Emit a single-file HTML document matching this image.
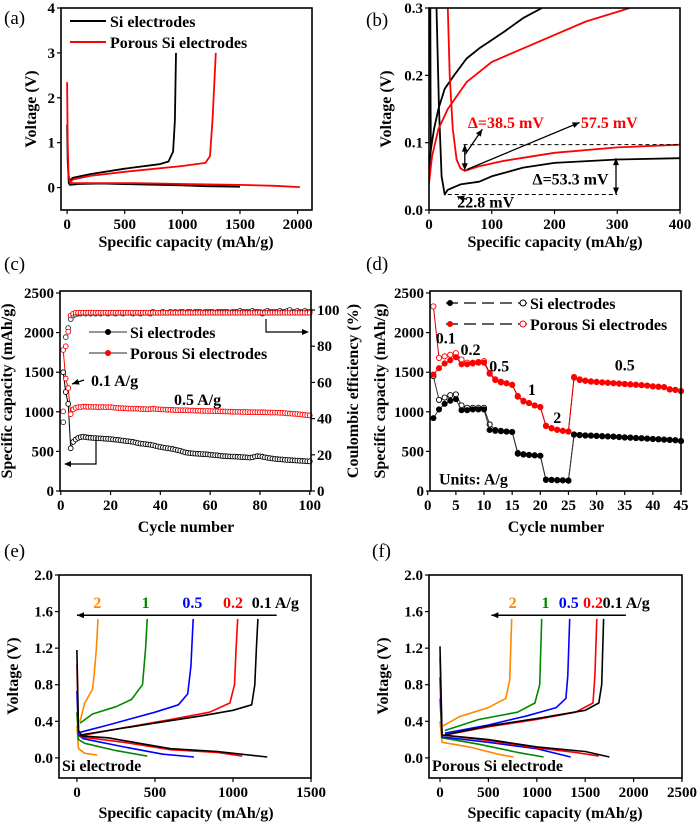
<!DOCTYPE html>
<html><head><meta charset="utf-8"><style>
html,body{margin:0;padding:0;background:#fff}
svg{display:block;font-family:"Liberation Serif",serif;font-weight:bold}
</style></head><body>
<svg id="fig" width="700" height="824" viewBox="0 0 700 824" xmlns="http://www.w3.org/2000/svg"></svg>
<script>
// ---------- Panel (a) data ----------
const aSiDisX=[0,5,15,25,100,300,600,1000,1200,1500];
const aSiDisY=[1.4,0.6,0.1,0.06,0.08,0.09,0.07,0.05,0.03,0.02];
const aSiChX=[20,50,200,500,800,880,920,935,945];
const aSiChY=[0.15,0.22,0.3,0.42,0.52,0.58,0.8,1.5,3.0];
const aPoDisX=[0,5,12,25,200,600,1000,1500,1800,2020];
const aPoDisY=[2.35,1.0,0.3,0.1,0.1,0.1,0.08,0.06,0.04,0.01];
const aPoChX=[20,50,200,500,1000,1200,1240,1262,1290];
const aPoChY=[0.1,0.18,0.26,0.35,0.48,0.55,0.7,1.5,3.0];
// ---------- Panel (b) data ----------
const bSiDisX=[12,16,20,25,30,50,80,100,150,200,300,400];
const bSiDisY=[0.3,0.15,0.05,0.023,0.03,0.038,0.042,0.05,0.063,0.07,0.075,0.077];
const bSiChX=[0,3,8,15,25,40,60,80,120,150,180];
const bSiChY=[0.06,0.09,0.12,0.15,0.18,0.2,0.225,0.24,0.265,0.285,0.3];
const bSiVertX=[2,2.5,3];
const bSiVertY=[0.3,0.15,0.09];
const bPoDisX=[30,33,38,44,50,57,80,120,200,300,400];
const bPoDisY=[0.3,0.2,0.12,0.075,0.062,0.058,0.065,0.073,0.085,0.093,0.097];
const bPoChX=[0,5,15,30,60,100,150,200,250,320];
const bPoChY=[0.04,0.08,0.12,0.15,0.19,0.22,0.24,0.26,0.28,0.3];
// ---------- Panel (c) data ----------
const cSiCap=[1500,1250,1100,540,620,650,670,680,685,680,675,672,670,668,665,665,662,660,658,655,652,648,645,640,636,632,628,624,620,612,605,600,596,592,588,584,578,570,562,556,550,545,540,535,530,522,515,508,498,488,482,478,475,472,470,468,466,464,462,458,455,452,450,446,442,440,438,436,435,434,432,430,428,426,424,422,425,435,440,438,432,425,420,415,410,405,402,400,398,395,392,390,388,386,384,382,380,378,376,374];
const cPoCap=[1780,1420,1300,970,1030,1050,1060,1060,1065,1065,1062,1063,1060,1062,1058,1060,1061,1058,1060,1060,1055,1050,1048,1046,1045,1044,1042,1040,1040,1040,1038,1036,1035,1034,1032,1035,1038,1036,1032,1030,1030,1028,1026,1025,1024,1022,1021,1020,1020,1020,1018,1017,1016,1015,1014,1013,1012,1011,1010,1010,1009,1008,1007,1006,1005,1004,1003,1002,1001,1000,1000,999,998,997,996,996,995,995,995,995,994,993,992,991,990,990,989,988,986,984,980,978,976,974,972,968,964,960,957,955];
const cSiCE=[38,85,90,95,97,97.5,98,98,98.5,98,98.5,98,98.5,98,98.5,98,98.5,98.5,98,98.5,98.5,98,98.5,98.5,98,98.5,98.5,98.5,98,98.5,98.5,98,98.5,98.5,98.5,98,99,98.5,98.5,98.5,99,98.5,98.5,99,98.5,99,98.5,99,99,98.5,99,99,98.5,99,99,99,98.5,99,99,99,99,98.5,99,99,99,99,99,98.5,99,99,99,99.5,99,99,99,99,99.5,99,99,99,98,99,99.5,99,99,99,99,99.5,99,99,99.5,100,99,99,99.5,99,99,99.5,99,99];
const cPoCE=[44,80,88,97,98,98.5,98.5,98.5,98.5,98.5,98.5,98.5,98.5,98.5,98.5,98.5,98.5,98.5,98.5,98.5,98.5,98.5,98.5,98.5,98.5,98.5,98.5,98.5,98.5,98.5,98.5,98.5,98.5,98.5,98.5,98.5,98.5,98.5,98.5,98.5,98.5,98.5,98.5,98.5,98.5,98.5,98.5,98.5,98.5,98.5,98.5,98.5,98.5,98.5,98.5,98.5,98.5,98.5,98.5,98.5,98.5,98.5,98.5,98.5,98.5,98.5,98.5,98.5,98.5,98.5,98.5,98.5,98.5,98.5,98.5,98.5,98.5,98.5,98.5,98.5,98.5,98.5,98.5,98.5,98.5,98.5,98.5,98.5,98.5,98.5,98.5,98.5,98.5,98.5,98.5,98.5,98.5,98.5,98.5,98.5];
// ---------- Panel (d) data ----------
const dSiA=[920,1030,1100,1140,1160,1020,1020,1030,1030,1030,770,760,755,750,745,470,460,455,450,445,140,140,135,135,130,710,705,700,698,695,690,688,685,680,675,672,668,665,660,656,652,648,644,640,630];
const dSiB=[1450,1150,1180,1210,1220,1080,1050,1050,1050,1050,840,770,760,750,745,480,465,455,450,445,145,140,138,135,132,715,708,702,700,697,693,690,687,683,678,675,670,667,662,658,654,650,646,642,632];
const dPoA=[1470,1550,1610,1650,1690,1600,1600,1610,1620,1620,1480,1400,1370,1360,1340,1190,1130,1110,1080,1060,820,790,770,760,750,1430,1400,1390,1380,1375,1370,1365,1360,1355,1350,1345,1340,1335,1330,1320,1315,1310,1280,1275,1260];
const dPoB=[2330,1680,1700,1720,1740,1660,1620,1620,1630,1640,1490,1410,1380,1360,1340,1200,1140,1110,1080,1060,825,795,775,760,750,1440,1410,1395,1385,1378,1372,1367,1362,1357,1352,1347,1342,1337,1332,1322,1317,1312,1285,1278,1262];
// ---------- Panel (e) data ----------
const eRates=["0.1","0.2","0.5","1","2"];
const eColors=["#000","#f00","#00f","#080","#f80"];
const eChX=[[20,200,500,800,1000,1120,1140,1150,1160],[20,300,600,850,980,1010,1020,1030],[20,200,500,650,710,730,745],[20,100,250,350,420,440,450],[20,50,100,110,125,135]];
const eChY=[[0.25,0.3,0.38,0.46,0.52,0.58,0.8,1.2,1.52],[0.24,0.33,0.42,0.5,0.6,0.8,1.2,1.52],[0.28,0.36,0.5,0.58,0.7,1.0,1.52],[0.38,0.48,0.56,0.64,0.8,1.2,1.52],[0.4,0.6,0.75,0.9,1.2,1.52]];
const eDisX=[[0,10,30,200,400,600,900,1220],[0,10,30,300,600,900,1060],[0,10,40,300,550,750],[0,10,50,250,450],[0,10,50,130]];
const eDisY=[[1.18,0.3,0.24,0.22,0.16,0.1,0.07,0.01],[1.02,0.3,0.23,0.17,0.09,0.06,0.02],[0.73,0.25,0.21,0.12,0.04,0.01],[0.5,0.2,0.16,0.08,0.02],[0.35,0.1,0.05,0.03]];
const eLabelX=[1120,1000,740,440,130];
// ---------- Panel (f) data ----------
const fChX=[[50,500,1000,1500,1640,1670,1690],[50,500,1000,1400,1580,1600,1620],[50,500,900,1200,1300,1320,1340],[50,400,800,980,1030,1050],[30,200,500,680,720,740]];
const fChY=[[0.25,0.35,0.43,0.52,0.6,0.8,1.52],[0.25,0.34,0.42,0.5,0.6,0.9,1.52],[0.27,0.36,0.46,0.55,0.65,0.9,1.52],[0.3,0.42,0.5,0.6,0.8,1.52],[0.35,0.45,0.55,0.65,0.85,1.52]];
const fDisX=[[0,20,500,1000,1500,1750],[0,20,500,1000,1400,1640],[0,20,500,1000,1350],[0,20,400,800,1070],[0,20,300,600,760]];
const fDisY=[[1.22,0.25,0.2,0.12,0.07,0.01],[1.1,0.25,0.19,0.11,0.06,0.02],[0.88,0.23,0.17,0.1,0.01],[0.65,0.22,0.15,0.06,0.01],[0.4,0.17,0.12,0.04,0.01]];
const fLabelX=[1680,1580,1330,1090,750];

const NS="http://www.w3.org/2000/svg";
const svg=document.getElementById('fig');
function mk(tag,attrs,parent){const e=document.createElementNS(NS,tag);for(const k in attrs)e.setAttribute(k,attrs[k]);(parent||svg).appendChild(e);return e;}
function txt(x,y,s,size,opt,parent){opt=opt||{};const t=mk('text',{x:x,y:y,'font-size':size,fill:opt.fill||'#000','text-anchor':opt.anchor||'middle'},parent);if(opt.rot)t.setAttribute('transform','rotate(-90 '+x+' '+y+')');t.textContent=s;return t;}
function scale(d0,d1,p0,p1){return v=>p0+(v-d0)/(d1-d0)*(p1-p0);}
function frame(g,x0,y0,x1,y1){mk('rect',{x:x0,y:y0,width:x1-x0,height:y1-y0,fill:'none',stroke:'#000','stroke-width':1.6},g);}
function xticks(g,sx,vals,y1,labels){vals.forEach((v,i)=>{mk('line',{x1:sx(v),x2:sx(v),y1:y1,y2:y1+4,stroke:'#000','stroke-width':1.2},g);const t=txt(sx(v),y1+19,labels?labels[i]:String(v),15,{},g);});}
function yticks(g,sy,vals,x0,labels){vals.forEach((v,i)=>{mk('line',{x1:x0-4,x2:x0,y1:sy(v),y2:sy(v),stroke:'#000','stroke-width':1.2},g);const t=txt(x0-6,sy(v)+5,labels?labels[i]:String(v),15,{anchor:'end'},g);});}
function line(g,sx,sy,X,Y,color,w,name){const p=X.map((x,i)=>sx(x).toFixed(1)+','+sy(Y[i]).toFixed(1)).join(' ');const e=mk('polyline',{points:p,fill:'none',stroke:color,'stroke-width':w||1.8,'stroke-linejoin':'round'},g);return e;}
function group(name){const g=mk('g',{});return g;}
function arrowHead(g,x,y,ang,color){const a=ang,l=7,w=3;const p=[[x,y],[x-l*Math.cos(a)+w*Math.sin(a),y-l*Math.sin(a)-w*Math.cos(a)],[x-l*Math.cos(a)-w*Math.sin(a),y-l*Math.sin(a)+w*Math.cos(a)]];mk('polygon',{points:p.map(q=>q.join(',')).join(' '),fill:color||'#000'},g);}
function arrow(g,x1,y1,x2,y2,color,w){mk('line',{x1:x1,y1:y1,x2:x2,y2:y2,stroke:color||'#000','stroke-width':w||1.3},g);arrowHead(g,x2,y2,Math.atan2(y2-y1,x2-x1),color);}

[['(a)',4,24],['(b)',366,26],['(c)',4,270],['(d)',366,270],['(e)',4,557],['(f)',372,557]].forEach(l=>{const t=txt(l[1],l[2],l[0],19,{anchor:'start'});t.setAttribute('font-weight','normal');});

// ===== Panel a =====
(function(){const g=group('panel-a');const X0=61,X1=312,Y0=8,Y1=210;const sx=scale(-53,2125,X0,X1),sy=scale(-0.5,4,Y1,Y0);
frame(g,X0,Y0,X1,Y1);xticks(g,sx,[0,500,1000,1500,2000],Y1);yticks(g,sy,[0,1,2,3,4],X0);
line(g,sx,sy,aSiDisX,aSiDisY,'#000',1.8,'si-discharge-curve');line(g,sx,sy,aSiChX,aSiChY,'#000',1.8,'si-charge-curve');
line(g,sx,sy,aPoDisX,aPoDisY,'#f00',1.8,'porous-discharge-curve');line(g,sx,sy,aPoChX,aPoChY,'#f00',1.8,'porous-charge-curve');
mk('line',{x1:70,x2:106,y1:21,y2:21,stroke:'#000','stroke-width':2},g);
txt(110,27,'Si electrodes',16,{anchor:'start'},g);
mk('line',{x1:70,x2:106,y1:42,y2:42,stroke:'#f00','stroke-width':2},g);
txt(110,48,'Porous Si electrodes',16,{anchor:'start'},g);
txt(186,247,'Specific capacity (mAh/g)',16,{},g);
txt(36,109,'Voltage (V)',16,{rot:1},g);})();

// ===== Panel b =====
(function(){const g=group('panel-b');const X0=429,X1=680,Y0=8,Y1=210;const sx=scale(0,400,X0,X1),sy=scale(0,0.3,Y1,Y0);
const clip=mk('clipPath',{id:'cb'},g);mk('rect',{x:X0,y:Y0,width:X1-X0,height:Y1-Y0},clip);
const c=mk('g',{'clip-path':'url(#cb)'},g);
line(c,sx,sy,bSiVertX,bSiVertY,'#000',1.8,'si-initial-curve');
line(c,sx,sy,bSiDisX,bSiDisY,'#000',1.8,'si-discharge-curve');line(c,sx,sy,bSiChX,bSiChY,'#000',1.8,'si-charge-curve');
line(c,sx,sy,bPoDisX,bPoDisY,'#f00',1.8,'porous-discharge-curve');line(c,sx,sy,bPoChX,bPoChY,'#f00',1.8,'porous-charge-curve');
frame(g,X0,Y0,X1,Y1);xticks(g,sx,[0,100,200,300,400],Y1);yticks(g,sy,[0.0,0.1,0.2,0.3],X0,['0.0','0.1','0.2','0.3']);
mk('line',{x1:sx(55),x2:sx(400),y1:sy(0.097),y2:sy(0.097),stroke:'#000','stroke-width':1,'stroke-dasharray':'4,3'},g);
mk('line',{x1:sx(30),x2:sx(300),y1:sy(0.023),y2:sy(0.023),stroke:'#000','stroke-width':1,'stroke-dasharray':'4,3'},g);
arrow(g,sx(57),sy(0.078),sx(57),sy(0.097));arrow(g,sx(57),sy(0.078),sx(57),sy(0.059));
arrow(g,sx(298),sy(0.05),sx(298),sy(0.077));arrow(g,sx(298),sy(0.05),sx(298),sy(0.023));
arrow(g,sx(58),sy(0.083),sx(85),sy(0.12));
arrow(g,sx(60),sy(0.06),sx(240),sy(0.13));
arrow(g,sx(60),sy(0.016),sx(45),sy(0.02));
txt(sx(62),sy(0.122),'Δ=38.5 mV',16,{anchor:'start',fill:'#f00'},g);
txt(sx(242),sy(0.122),'57.5 mV',16,{anchor:'start',fill:'#f00'},g);
txt(sx(165),sy(0.038),'Δ=53.3 mV',16,{anchor:'start'},g);
txt(sx(45),sy(0.004),'22.8 mV',16,{anchor:'start'},g);
txt(555,247,'Specific capacity (mAh/g)',16,{},g);
txt(391,109,'Voltage (V)',16,{rot:1},g);})();

// ===== Panel c =====
(function(){const g=group('panel-c');const X0=60,X1=311,Y0=291,Y1=491;const sx=scale(-0.3,100.5,X0,X1),sy=scale(0,2525,Y1,Y0),sce=scale(0,110.5,Y1,Y0);
const cyc=cSiCap.map((v,i)=>i+1);
line(g,sx,sy,cyc,cSiCap,'#000',1,'si-capacity-line');line(g,sx,sy,cyc,cPoCap,'#f00',1,'porous-capacity-line');
cyc.forEach((c,i)=>{
 let e=mk('circle',{cx:sx(c),cy:sce(cSiCE[i]),r:2.4,fill:'#fff',stroke:'#333','stroke-width':0.9},g);
 e=mk('circle',{cx:sx(c),cy:sce(cPoCE[i]),r:2.4,fill:'#fff',stroke:'#f00','stroke-width':0.9},g);
 e=mk('circle',{cx:sx(c),cy:sy(cSiCap[i]),r:2.4,fill:'#fff',stroke:'#000','stroke-width':0.9},g);
 e=mk('circle',{cx:sx(c),cy:sy(cPoCap[i]),r:2.4,fill:'#fff',stroke:'#f00','stroke-width':0.9},g);
});
frame(g,X0,Y0,X1,Y1);xticks(g,sx,[0,20,40,60,80,100],Y1);yticks(g,sy,[0,500,1000,1500,2000,2500],X0);
[0,20,40,60,80,100].forEach(v=>{mk('line',{x1:X1,x2:X1+4,y1:sce(v),y2:sce(v),stroke:'#000','stroke-width':1.2},g);txt(X1+6,sce(v)+5,String(v),15,{anchor:'start'},g);});
mk('line',{x1:89,x2:127,y1:332,y2:332,stroke:'#555','stroke-width':1.2},g);mk('circle',{cx:108,cy:332,r:3,fill:'#000'},g);
txt(130,338,'Si electrodes',16,{anchor:'start'},g);
mk('line',{x1:89,x2:127,y1:353,y2:353,stroke:'#555','stroke-width':1.2},g);mk('circle',{cx:108,cy:353,r:3,fill:'#f00'},g);
txt(130,359,'Porous Si electrodes',16,{anchor:'start'},g);
arrow(g,84,380,72,384);txt(91,386,'0.1 A/g',16,{anchor:'start'},g);
txt(174,405,'0.5 A/g',16,{anchor:'start'},g);
mk('polyline',{points:'96,437 96,464 67,464',fill:'none',stroke:'#000','stroke-width':1.2},g);arrowHead(g,64,464,Math.PI);
mk('polyline',{points:'266,319 266,332 305,332',fill:'none',stroke:'#000','stroke-width':1.2},g);arrowHead(g,309,332,0);
txt(186,532,'Cycle number',16,{},g);
txt(12,391,'Specific capacity (mAh/g)',16,{rot:1},g);
txt(358,391,'Coulombic efficiency (%)',16,{rot:1},g);})();

// ===== Panel d =====
(function(){const g=group('panel-d');const X0=430,X1=681,Y0=291,Y1=491;const sx=scale(0.4,45,X0,X1),sy=scale(0,2525,Y1,Y0);
const cyc=dSiA.map((v,i)=>i+1);
[[dSiB,'#000','si-charge',true],[dSiA,'#000','si-discharge',false],[dPoB,'#f00','porous-charge',true],[dPoA,'#f00','porous-discharge',false]].forEach(s=>{
 line(g,sx,sy,cyc,s[0],s[1]==='#000'?'#333':'#d00',1,s[2]+'-line');
 cyc.forEach((c,i)=>{const e=mk('circle',{cx:sx(c),cy:sy(s[0][i]),r:2.6,fill:s[3]?'#fff':s[1],stroke:s[1],'stroke-width':0.9},g);});
});
frame(g,X0,Y0,X1,Y1);xticks(g,sx,[0,5,10,15,20,25,30,35,40,45],Y1);yticks(g,sy,[0,500,1000,1500,2000,2500],X0);
mk('line',{x1:446,x2:527,y1:303,y2:303,stroke:'#000','stroke-width':1.2,'stroke-dasharray':'12,6'},g);mk('circle',{cx:450,cy:303,r:3,fill:'#000'},g);mk('circle',{cx:523,cy:303,r:3,fill:'#fff',stroke:'#000'},g);
txt(530,309,'Si electrodes',16,{anchor:'start'},g);
mk('line',{x1:446,x2:527,y1:324,y2:324,stroke:'#000','stroke-width':1.2,'stroke-dasharray':'12,6'},g);mk('circle',{cx:450,cy:324,r:3,fill:'#f00'},g);mk('circle',{cx:523,cy:324,r:3,fill:'#fff',stroke:'#f00'},g);
txt(530,330,'Porous Si electrodes',16,{anchor:'start'},g);
[['0.1',3.2,1860],['0.2',7.6,1720],['0.5',12.7,1510],['1',18.5,1210],['2',23,860],['0.5',35,1520]].forEach(l=>{txt(sx(l[1]),sy(l[2]),l[0],16,{},g);});
txt(sx(2),sy(80),'Units: A/g',16,{anchor:'start'},g);
txt(556,532,'Cycle number',16,{},g);
txt(385,391,'Specific capacity (mAh/g)',16,{rot:1},g);})();

// ===== Panels e/f =====
function gcd(name,X0,X1,xd,ticks,CX,CY,DX,DY,LX,arrowFrom,arrowTo,label,titleX,yTitleX){
 const g=group(name);const Y0=575,Y1=778;const sx=scale(xd[0],xd[1],X0,X1),sy=scale(-0.22,2.0,Y1,Y0);
 for(let i=4;i>=0;i--){line(g,sx,sy,CX[i],CY[i],eColors[i],1.6,'charge-'+eRates[i]);line(g,sx,sy,DX[i],DY[i],eColors[i],1.6,'discharge-'+eRates[i]);}
 frame(g,X0,Y0,X1,Y1);xticks(g,sx,ticks,Y1);yticks(g,sy,[0,0.4,0.8,1.2,1.6,2.0],X0,['0.0','0.4','0.8','1.2','1.6','2.0']);
 arrow(g,sx(arrowFrom),sy(1.56),sx(arrowTo),sy(1.56),'#000',1.5);
 for(let i=0;i<5;i++){const t=txt(sx(LX[i]),sy(1.64),eRates[i]+(i===0?' A/g':''),16,{anchor:i===0?'start':'middle',fill:eColors[i]},g);}
 txt(X0+3,Y1-7,label,16,{anchor:'start'},g);
 txt(titleX,818,'Specific capacity (mAh/g)',16,{},g);
 txt(yTitleX,676,'Voltage (V)',16,{rot:1},g);
}
gcd('panel-e',59,311,[-115,1500],[0,500,1000,1500],eChX,eChY,eDisX,eDisY,eLabelX,1280,0,'Si electrode',186,18);
gcd('panel-f',429,682,[-114,2500],[0,500,1000,1500,2000,2500],fChX,fChY,fDisX,fDisY,fLabelX,1920,530,'Porous Si electrode',555,388);
</script>
</body></html>
